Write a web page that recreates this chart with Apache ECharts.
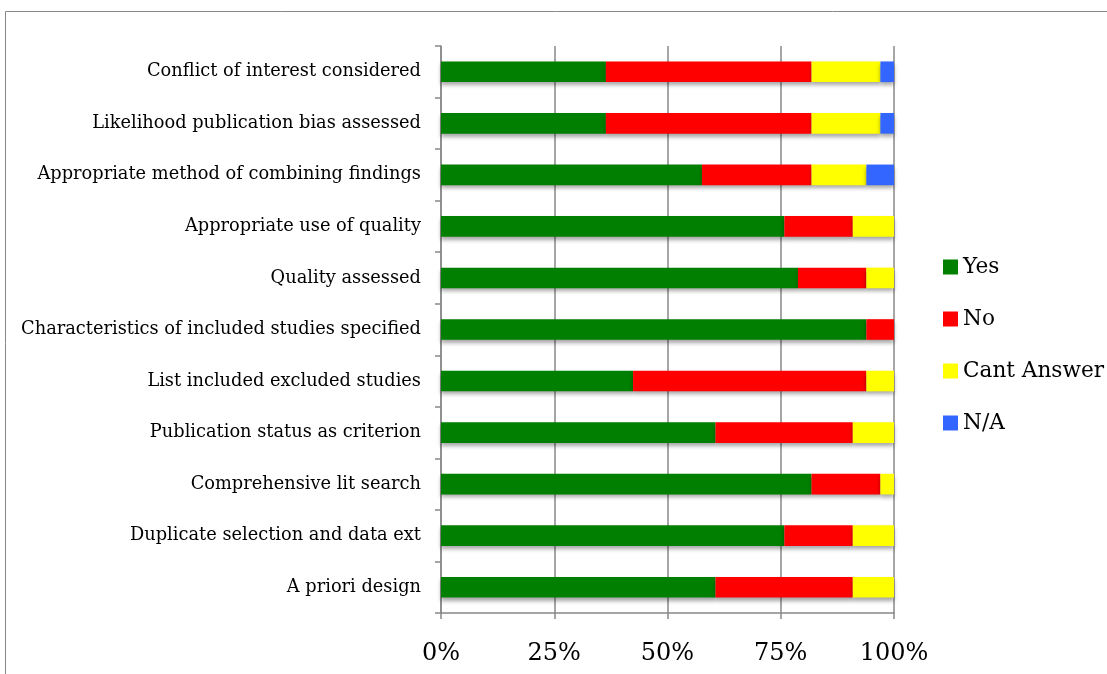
<!DOCTYPE html>
<html>
<head>
<meta charset="utf-8">
<script src="https://cdn.jsdelivr.net/npm/echarts@6/dist/echarts.min.js"></script>
<style>
html,body{margin:0;padding:0;background:#fff;}
#chart{width:1107px;height:674px;}
</style>
</head>
<body>
<div id="chart"></div>
<script>
const categories = [
  'Conflict of interest considered',
  'Likelihood publication bias assessed',
  'Appropriate method of combining findings',
  'Appropriate use of quality',
  'Quality assessed',
  'Characteristics of included studies specified',
  'List included excluded studies',
  'Publication status as criterion',
  'Comprehensive lit search',
  'Duplicate selection and data ext',
  'A priori design'
];
const yesValues = [36.4, 36.4, 57.6, 75.8, 78.8, 93.9, 42.4, 60.6, 81.8, 75.8, 60.6];
const noValues = [45.4, 45.4, 24.2, 15.1, 15.1, 6.1, 51.5, 30.3, 15.2, 15.1, 30.3];
const cantValues = [15.2, 15.2, 12.1, 9.1, 6.1, 0, 6.1, 9.1, 3.0, 9.1, 9.1];
const naValues = [3.0, 3.0, 6.1, 0, 0, 0, 0, 0, 0, 0, 0];
const xTicks = [0, 25, 50, 75, 100];

const FONT = 'DejaVu Serif';
const chart = echarts.init(document.getElementById('chart'), null, {renderer: 'canvas'});
function mk(name, data, color) {
  return {
    name: name, type: 'bar', stack: 'total', data: data, barWidth: '40%',
    itemStyle: {color: color, shadowColor: 'rgba(0,0,0,0.35)', shadowBlur: 4, shadowOffsetY: 3},
    emphasis: {disabled: true}
  };
}
chart.setOption({
  animation: false,
  backgroundColor: '#fff',
  graphic: [{type: 'rect', shape: {x: 5.5, y: 11.5, width: 1300, height: 900},
    style: {fill: 'none', stroke: '#888', lineWidth: 1}, silent: true}],
  grid: {left: 441, right: 213, top: 46, bottom: 61, containLabel: false},
  legend: {
    orient: 'vertical', left: 938, top: 251, itemWidth: 15, itemHeight: 15, itemGap: 30,
    icon: 'rect',
    textStyle: {fontFamily: FONT, fontSize: 21.6, color: '#000'},
    data: ['Yes', 'No', 'Cant Answer', 'N/A']
  },
  xAxis: {
    type: 'value', min: 0, max: 100, interval: 25,
    axisLine: {show: true, lineStyle: {color: '#888', width: 1.5}},
    axisTick: {show: true, length: 6, lineStyle: {color: '#888', width: 1.5}},
    splitLine: {show: true, lineStyle: {color: '#888', width: 1.5}},
    axisLabel: {
      formatter: function (v) { return xTicks.indexOf(v) >= 0 ? v + '%' : ''; },
      fontFamily: FONT, fontSize: 24, color: '#000', margin: 29
    }
  },
  yAxis: {
    type: 'category', data: categories, inverse: true,
    axisLine: {show: true, lineStyle: {color: '#888', width: 1.5}},
    axisTick: {show: true, length: 6, lineStyle: {color: '#888', width: 1.5}},
    axisLabel: {fontFamily: FONT, fontSize: 17.8, color: '#000', margin: 20}
  },
  series: [
    mk('Yes', yesValues, '#007f00'),
    mk('No', noValues, '#fe0000'),
    mk('Cant Answer', cantValues, '#ffff00'),
    mk('N/A', naValues, '#3366ff')
  ]
});
</script>
</body>
</html>
